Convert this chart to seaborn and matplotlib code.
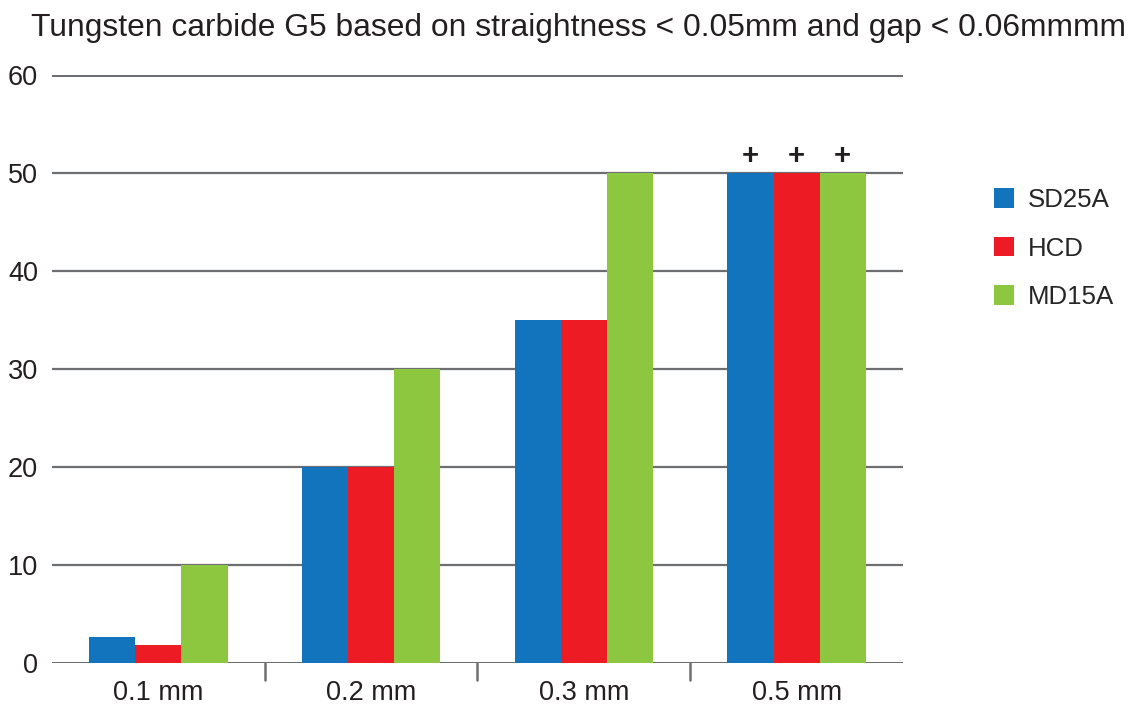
import pandas as pd
import seaborn as sns
import matplotlib.pyplot as plt
from matplotlib.patches import Patch

# data
categories = ['0.1 mm', '0.2 mm', '0.3 mm', '0.5 mm']
series_names = ['SD25A', 'HCD', 'MD15A']
sd25a = [2.7, 20, 35, 50]
hcd = [1.8, 20, 35, 50]
md15a = [10, 30, 50, 50]
plus_marks = [False, False, False, True]  # "+" above the bars = value exceeds axis
colors = ['#1174bc', '#ed1c24', '#8dc63f']
yticks = [0, 10, 20, 30, 40, 50, 60]

df = pd.DataFrame({
    'size': categories * 3,
    'series': [s for s in series_names for _ in categories],
    'value': sd25a + hcd + md15a,
})

sns.set_style('white')
plt.rcParams['font.family'] = ['Liberation Sans', 'DejaVu Sans']

fig = plt.figure(figsize=(11.35, 7.07), dpi=100)
ax = fig.add_axes([0.0458, 0.0622, 0.7498, 0.8316])

sns.barplot(data=df, x='size', y='value', hue='series', palette=colors,
            width=0.65, saturation=1, ax=ax, legend=False, zorder=3,
            linewidth=0)

grid_col = '#6d6e71'
ax.set_ylim(0, 60)
ax.set_xlim(-0.5, len(categories) - 0.5)
ax.set_yticks(yticks)
ax.set_yticklabels([str(t) for t in yticks], fontsize=19.5, color='#231f20')
for t in yticks:
    ax.axhline(t, color=grid_col, lw=2.2 if t in (0, 60) else 1.6, zorder=2)
ax.tick_params(axis='y', length=0, pad=10)
ax.tick_params(axis='x', length=0, pad=12, labelsize=19.5, labelcolor='#231f20')
# separators between groups on the baseline
for i in range(1, len(categories)):
    ax.plot([i - 0.5, i - 0.5], [0, -1.7], color=grid_col, lw=1.8,
            clip_on=False, zorder=2)
for s in ax.spines.values():
    s.set_visible(False)
ax.set_xlabel('')
ax.set_ylabel('')

# plus signs above the bars that run off scale
bw = 0.65 / 3
for i, flag in enumerate(plus_marks):
    if flag:
        vals = [sd25a[i], hcd[i], md15a[i]]
        for j, v in enumerate(vals):
            ax.text(i + (j - 1) * bw, v + 0.3, '+', ha='center', va='bottom',
                    fontsize=21, fontweight='bold', color='#231f20')

fig.text(0.027, 0.96, 'Tungsten carbide G5 based on straightness < 0.05mm and gap < 0.06mmmm',
         fontsize=22.9, color='#231f20', ha='left', va='center')

handles = [Patch(facecolor=c, edgecolor='none', label=n) for c, n in zip(colors, series_names)]
fig.legend(handles=handles, loc='upper left', bbox_to_anchor=(0.855, 0.767),
           frameon=False, fontsize=18.6, handlelength=0.78, handleheight=0.78,
           handletextpad=0.55, labelspacing=0.95)

fig.savefig('out.png', dpi=100)
